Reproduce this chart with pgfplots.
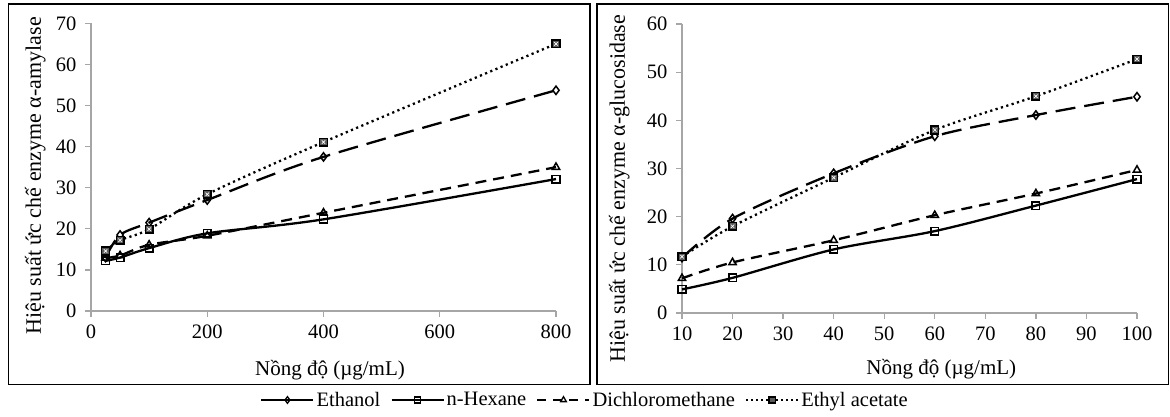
\documentclass[border=0pt]{standalone}
\usepackage{pgfplots}
\pgfplotsset{compat=1.18}
\usepackage{fontspec}
\setmainfont{Liberation Serif}

\pgfplotsset{
  panel/.style={
    scale only axis, anchor=south west,
    axis x line*=bottom, axis y line*=left,
    axis line style={draw=black!35, line width=1.3pt, -},
    every tick/.style={draw=black!35, line width=1.3pt},
    tick align=outside, major tick length=6pt,
    /pgf/number format/assume math mode=true,
    tick label style={font=\fontsize{20.5}{24}\selectfont},
    xticklabel style={yshift=-4pt}, yticklabel style={xshift=-5pt},
    xlabel style={font=\fontsize{21}{25}\selectfont},
    ylabel style={font=\fontsize{22}{26}\selectfont},
    ymin=0, clip=false,
  },
  eth/.style={black, line width=2.3pt, smooth, tension=0.5, dash pattern=on 20pt off 9pt,
    mark=diamond, mark size=4.2pt, mark options={solid, fill=white, line width=1.5pt}},
  hex/.style={black, line width=2.3pt, smooth, tension=0.5,
    mark=square, mark size=3.8pt, mark options={solid, fill=white, line width=1.5pt}},
  dcm/.style={black, line width=2.3pt, smooth, tension=0.5, dash pattern=on 11pt off 7pt,
    mark=triangle, mark size=4.2pt, mark options={solid, fill=white, line width=1.5pt}},
  ea/.style={black, line width=2.3pt, smooth, tension=0.5, dash pattern=on 2.2pt off 3.4pt,
    mark=square*, mark size=3.8pt, mark options={solid, fill=black!65, line width=1.5pt}},
  eax/.style={only marks, mark=x, mark size=2.4pt, mark options={white, line width=0.7pt}, forget plot},
}

\begin{document}
\begin{tikzpicture}
\path[use as bounding box] (0pt,0pt) rectangle (1170pt,416pt);

% alpha-amylase
\begin{axis}[panel,
  at={(91pt,105pt)}, width=465pt, height=287.7pt,
  xmin=0, xmax=800, ymax=70,
  xtick={0,200,...,800}, ytick={0,10,...,70},
  xlabel={Nồng độ (µg/mL)},
  ylabel={Hiệu suất ức chế enzyme α-amylase},
  xlabel style={at={(axis description cs:0.514,-0.2225)}, anchor=base},
  ylabel style={at={(axis description cs:-0.12,0.47)}, anchor=center},
]
\addplot[eth] coordinates {(25,13.0) (50,18.5) (100,21.5) (200,27.0) (400,37.5) (800,53.7)};
\addplot[hex] coordinates {(25,12.2) (50,13.0) (100,15.3) (200,18.9) (400,22.3) (800,32.1)};
\addplot[dcm] coordinates {(25,12.9) (50,13.5) (100,16.1) (200,18.3) (400,23.9) (800,35.0)};
\addplot[ea] coordinates {(25,14.6) (50,17.2) (100,19.9) (200,28.4) (400,41.1) (800,65.0)};
\addplot[eax] coordinates {(25,14.6) (50,17.2) (100,19.9) (200,28.4) (400,41.1) (800,65.0)};
\end{axis}

% alpha-glucosidase
\begin{axis}[panel,
  at={(682pt,103pt)}, width=455pt, height=289pt,
  xmin=10, xmax=100, ymax=60,
  xtick={10,20,...,100}, ytick={0,10,...,60},
  xlabel={Nồng độ (µg/mL)},
  ylabel={Hiệu suất ức chế enzyme α-glucosidase},
  xlabel style={at={(axis description cs:0.57,-0.2145)}, anchor=base},
  ylabel style={at={(axis description cs:-0.138,0.43)}, anchor=center},
  legend columns=4,
  legend style={at={(axis description cs:-0.2132,-0.301)}, anchor=center,
    draw=none, fill=none, font=\fontsize{20.5}{24}\selectfont,
    /tikz/every even column/.append style={column sep=8pt}},
  legend image code/.code={\draw[mark repeat=2, mark phase=2, #1]
    plot coordinates {(0pt,0pt) (26pt,0pt) (52pt,0pt)};},
]
\addlegendimage{black, line width=2.3pt, mark=diamond, mark size=3.3pt, mark options={fill=white, line width=1.3pt}}
\addlegendimage{black, line width=2.3pt, mark=square, mark size=3.1pt, mark options={fill=white, line width=1.3pt}}
\addlegendimage{black, line width=2.3pt, dash pattern=on 9pt off 7pt, mark=triangle, mark size=3.3pt, mark options={solid, fill=white, line width=1.3pt}}
\addlegendimage{black, line width=2.3pt, dash pattern=on 2pt off 3pt, mark=square*, mark size=3.1pt, mark options={solid, fill=black!65, line width=1.3pt}}
\legend{Ethanol, n-Hexane, Dichloromethane, Ethyl acetate}
\addplot[eth, forget plot] coordinates {(10,11.5) (20,19.6) (40,29.0) (60,36.7) (80,41.1) (100,44.9)};
\addplot[hex, forget plot] coordinates {(10,4.9) (20,7.3) (40,13.2) (60,17.0) (80,22.3) (100,27.8)};
\addplot[dcm, forget plot] coordinates {(10,7.2) (20,10.5) (40,15.1) (60,20.3) (80,24.8) (100,29.7)};
\addplot[ea, forget plot] coordinates {(10,11.7) (20,18.0) (40,28.1) (60,38.0) (80,45.0) (100,52.7)};
\addplot[eax] coordinates {(10,11.7) (20,18.0) (40,28.1) (60,38.0) (80,45.0) (100,52.7)};
\end{axis}

\draw[line width=1.6pt] (8.3pt,31.5pt) rectangle (590pt,412pt);
\draw[line width=1.6pt] (596.7pt,31.5pt) rectangle (1168.5pt,412pt);
\end{tikzpicture}
\end{document}
